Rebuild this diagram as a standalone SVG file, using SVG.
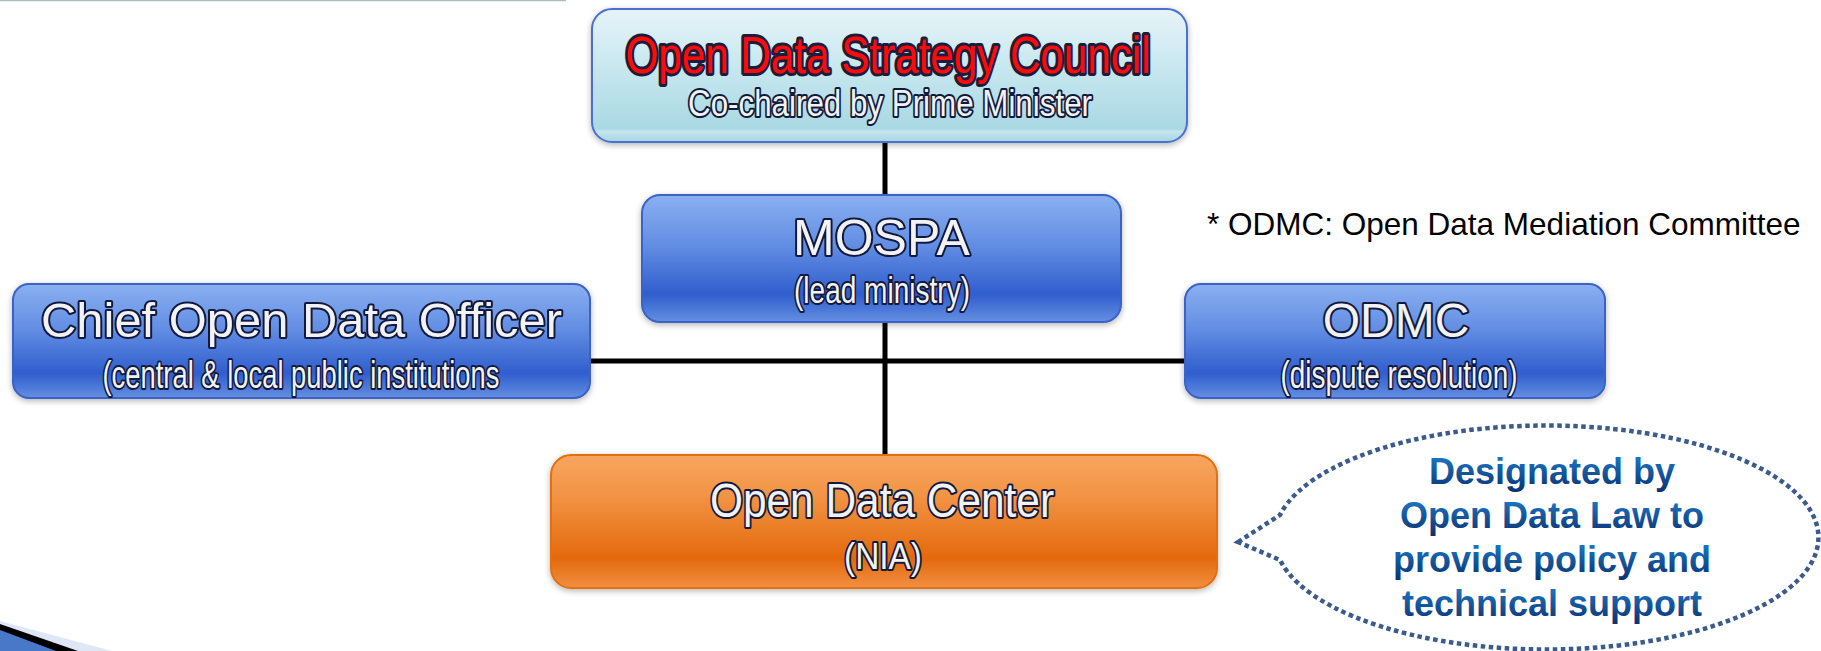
<svg xmlns="http://www.w3.org/2000/svg" width="1821" height="651" viewBox="0 0 1821 651">
<defs>
  <linearGradient id="gCyan" x1="0" y1="0" x2="0" y2="1">
    <stop offset="0" stop-color="#e6f4f8"/>
    <stop offset="0.45" stop-color="#c7e7ef"/>
    <stop offset="0.9" stop-color="#a9d8e3"/>
    <stop offset="0.92" stop-color="#c4e5ee"/>
    <stop offset="1" stop-color="#a6d6e2"/>
  </linearGradient>
  <linearGradient id="gBlue" x1="0" y1="0" x2="0" y2="1">
    <stop offset="0" stop-color="#8ab0f0"/>
    <stop offset="0.4" stop-color="#628de3"/>
    <stop offset="0.78" stop-color="#305ecd"/>
    <stop offset="0.9" stop-color="#4b78d8"/>
    <stop offset="1" stop-color="#6690e0"/>
  </linearGradient>
  <linearGradient id="gOrange" x1="0" y1="0" x2="0" y2="1">
    <stop offset="0" stop-color="#f8a560"/>
    <stop offset="0.3" stop-color="#f29445"/>
    <stop offset="0.78" stop-color="#e4690c"/>
    <stop offset="0.9" stop-color="#ec7f2c"/>
    <stop offset="1" stop-color="#f28f40"/>
  </linearGradient>
  <linearGradient id="gText" x1="0" y1="0" x2="0" y2="1">
    <stop offset="0" stop-color="#1f7fcf"/>
    <stop offset="1" stop-color="#0a3272"/>
  </linearGradient>
  <filter id="shadow" x="-5%" y="-15%" width="110%" height="135%">
    <feGaussianBlur in="SourceAlpha" stdDeviation="3"/>
    <feOffset dx="0" dy="2" result="b"/>
    <feComponentTransfer><feFuncA type="linear" slope="0.3"/></feComponentTransfer>
    <feMerge><feMergeNode/><feMergeNode in="SourceGraphic"/></feMerge>
  </filter>
  <style>
    .box { stroke-width: 2; filter: url(#shadow); }
    .cyan { fill: url(#gCyan); stroke: #4a6fd2; }
    .blue { fill: url(#gBlue); stroke: #3a62c8; }
    .orange { fill: url(#gOrange); stroke: #e2700f; }
    .t { font-family: "Liberation Sans", Arial, sans-serif; text-anchor: middle; paint-order: stroke; stroke-linejoin: round; }
    .title { fill: #ff0a0a; stroke: #1c1c3c; stroke-width: 6; font-size: 52px; }
    .w { fill: #f2f2f4; stroke: #111a3c; stroke-width: 4; }
    .big { font-size: 48px; }
    .sub { font-size: 38px; }
    .conn { stroke: #000; stroke-width: 5; fill: none; }
    .note { font-family: "Liberation Sans", Arial, sans-serif; font-size: 31.5px; fill: #000; }
    .bub { font-family: "Liberation Sans", Arial, sans-serif; font-size: 36px; font-weight: bold; fill: url(#gText); text-anchor: middle; }
  </style>
</defs>
<rect x="0" y="0" width="1821" height="651" fill="#ffffff"/>
<line x1="0" y1="0.5" x2="566" y2="0.5" stroke="#aabcbc" stroke-width="1.5"/>
<g id="corner-deco">
  <polygon points="0,621 112,651 0,651" fill="#dfe6f5"/>
  <polygon points="0,624 78,651 0,651" fill="#000000"/>
  <polygon points="0,630 56,651 0,651" fill="#4a78c8"/>
</g>
<g id="connectors">
  <line class="conn" x1="885" y1="140" x2="885" y2="197"/>
  <line class="conn" x1="885" y1="320" x2="885" y2="457"/>
  <line class="conn" x1="588" y1="361" x2="1187" y2="361"/>
</g>
<g id="council">
  <rect class="box cyan" x="592" y="9" width="595" height="133" rx="20"/>
  <text class="t title" x="888" y="73" textLength="525" lengthAdjust="spacingAndGlyphs">Open Data Strategy Council</text>
  <text class="t w" x="890" y="116" font-size="36" textLength="404" lengthAdjust="spacingAndGlyphs">Co-chaired by Prime Minister</text>
</g>
<g id="mospa">
  <rect class="box blue" x="642" y="195" width="479" height="127" rx="18"/>
  <text class="t w" x="881.5" y="255" font-size="50">MOSPA</text>
  <text class="t w" x="882" y="303" font-size="36" textLength="176" lengthAdjust="spacingAndGlyphs">(lead ministry)</text>
</g>
<g id="cdo">
  <rect class="box blue" x="13" y="284" width="577" height="114" rx="16"/>
  <text class="t w big" x="301.5" y="337" textLength="521" lengthAdjust="spacingAndGlyphs">Chief Open Data Officer</text>
  <text class="t w sub" x="301" y="388" textLength="397" lengthAdjust="spacingAndGlyphs">(central &amp; local public institutions</text>
</g>
<g id="odmc">
  <rect class="box blue" x="1185" y="284" width="420" height="114" rx="16"/>
  <text class="t w" x="1396" y="337" font-size="48">ODMC</text>
  <text class="t w sub" x="1399" y="388" textLength="237" lengthAdjust="spacingAndGlyphs">(dispute resolution)</text>
</g>
<g id="odc">
  <rect class="box orange" x="551" y="455" width="666" height="133" rx="20"/>
  <text class="t w" x="882" y="517" font-size="48" textLength="344" lengthAdjust="spacingAndGlyphs">Open Data Center</text>
  <text class="t w" x="883" y="569" font-size="37" textLength="78" lengthAdjust="spacingAndGlyphs">(NIA)</text>
</g>
<g id="note">
  <text class="note" x="1207" y="235">* ODMC: Open Data Mediation Committee</text>
</g>
<g id="callout">
  <path d="M1238,542 L1280,515 A272,112 0 1 1 1280,560 Z" fill="none" stroke="#3a5b8c" stroke-width="4.5" stroke-dasharray="4.5 3.5"/>
  <text class="bub" x="1552" y="484">Designated by</text>
  <text class="bub" x="1552" y="528">Open Data Law to</text>
  <text class="bub" x="1552" y="572">provide policy and</text>
  <text class="bub" x="1552" y="616">technical support</text>
</g>
</svg>
